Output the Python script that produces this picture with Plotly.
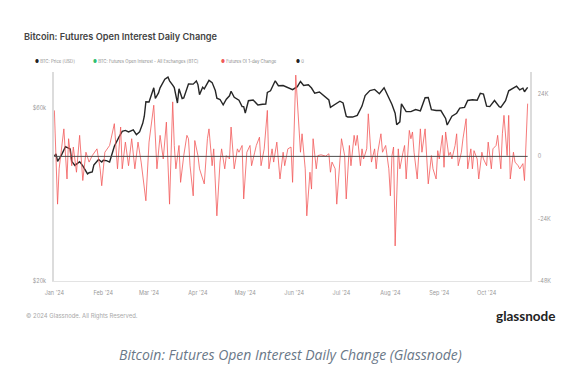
import pandas as pd
import plotly.graph_objects as go

# ---- data ----
# BTC price (USD, thousands), day index from 2024-01-01
price_days = [0, 1, 2, 4, 7, 9, 10, 11, 13, 16, 18, 21, 22, 24, 25, 28, 30,
              31, 33, 35, 37, 38, 41, 43, 45, 47, 50, 52, 54, 56, 57, 58,
              60, 63, 64, 66, 67, 70, 72, 73, 75, 76, 78, 79, 81, 82, 85, 88, 90,
              91, 92, 94, 95, 98, 100, 102, 103, 105, 107, 109, 111, 112, 114, 117, 119, 120,
              121, 123, 126, 129, 132, 134, 135, 137, 140, 142, 145, 148, 151,
              154, 156, 158, 161, 163, 165, 168, 171, 174, 175, 178, 181,
              183, 185, 186, 189, 192, 195, 197, 200, 203, 206, 209, 210, 212,
              214, 216, 217, 219, 220, 223, 226, 229, 232, 235, 237, 239, 242,
              245, 248, 249, 252, 255, 257, 260, 262, 265, 268, 270, 272,
              274, 276, 279, 282, 283, 286, 288, 291, 293, 295, 297, 298, 300]
price_k = [44.2, 44.9, 42.8, 44.1, 47.0, 46.6, 46.3, 42.8, 41.7, 42.7, 41.6, 39.5, 39.8, 40.0, 41.8, 43.3, 42.6,
           43.1, 43.0, 42.6, 45.3, 47.1, 50.0, 51.8, 52.1, 51.6, 52.3, 50.7, 51.6, 54.5, 57.0, 62.5,
           62.4, 68.3, 63.8, 66.1, 68.3, 72.1, 73.1, 71.4, 69.5, 68.4, 62.0, 67.9, 63.8, 64.0, 70.0, 69.9, 71.3,
           69.7, 65.4, 68.5, 67.8, 71.6, 70.6, 67.1, 63.9, 63.4, 61.3, 63.5, 64.9, 66.8, 64.3, 63.1, 60.6, 60.6,
           58.2, 62.9, 63.2, 61.2, 61.5, 61.6, 66.3, 67.0, 71.4, 69.2, 69.3, 68.4, 67.5,
           68.8, 71.1, 69.3, 69.6, 68.2, 66.0, 66.5, 64.9, 63.2, 60.3, 61.6, 62.7,
           62.0, 57.0, 56.7, 56.7, 57.3, 60.8, 65.0, 67.1, 67.6, 65.8, 68.3, 66.8, 64.6,
           61.4, 58.1, 54.0, 55.0, 61.7, 58.7, 58.7, 59.5, 59.0, 64.1, 64.2, 59.4, 59.1,
           59.1, 56.2, 53.9, 57.0, 58.1, 60.0, 60.3, 63.0, 63.3, 63.1, 65.9, 65.6,
           60.8, 60.6, 63.0, 60.6, 60.3, 62.9, 67.0, 68.4, 69.0, 67.4, 68.1, 66.6, 68.5]

# Futures OI 1-day change (thousand BTC), day index from 2024-01-01
oi_days = [0, 2, 3, 6, 8, 9, 11, 12, 14, 16, 18, 20, 22, 24, 27, 29, 30, 32, 35, 38,
           40, 42, 43, 45, 47, 49, 51, 53, 55, 58, 60, 63, 65, 67, 69, 71, 73, 75,
           76, 77, 79, 80, 82, 84, 85, 86, 88, 89, 91, 92, 95, 97, 98, 100, 101, 103,
           105, 106, 108, 109, 111, 112, 114, 116, 117, 119, 120, 122, 124, 125, 127,
           128, 130, 131, 133, 135, 136, 138, 139, 141, 143, 145, 146, 148, 150, 151,
           153, 155, 156, 157, 159, 160, 162, 163, 164, 166, 167, 169, 172, 174, 175,
           176, 178, 179, 181, 182, 184, 185, 187, 188, 190, 191, 192, 194, 195, 196,
           198, 199, 201, 203, 204, 205, 207, 208, 210, 212, 213, 214, 215, 216, 218,
           219, 221, 222, 223, 225, 226, 227, 228, 230, 232, 233, 235, 236, 237, 239,
           240, 242, 243, 244, 246, 247, 248, 250, 251, 252, 254, 255, 256, 258, 259,
           261, 262, 264, 265, 266, 268, 269, 271, 272, 274, 275, 277, 278, 280, 281,
           283, 284, 285, 287, 288, 289, 291, 292, 294, 295, 297, 298, 299, 300]
oi_change_k = [17.7, -18.4, -4.8, 10.6, -8.7, 6.8, -3.6, 3.6, -6.1, 8.1, -9.3, 1.6, -2.2, 0.3, 2.9, -4.8, -11.3, 1.6, 4.2, 12.6,
               -4.8, 11.3, -4.8, 5.5, -3.6, 6.8, -4.8, 5.5, -2.2, -17.1, 5.5, 19.7, -4.8, 8.1, -1.0, 13.2, -18.4, 21.0,
               4.2, -4.8, 4.2, -10.0, 0.3, 8.1, 6.8, -3.6, -15.2, 6.1, 0.3, -4.8, -10.6, 6.8, 10.6, -3.6, 2.9, -22.9,
               -2.2, 2.9, -4.8, 0.3, -1.0, 11.3, -4.8, 2.9, 1.6, 4.2, -16.4, 1.6, 4.2, -3.6, 1.6,
               4.2, 7.4, -3.6, 2.9, 17.7, -4.8, 2.9, -2.2, 5.5, -8.7, 1.6, -3.6, 2.9, 3.6, -10.0,
               31.3, 9.4, 1.6, 8.7, -4.8, -22.9, -6.1, -12.6, 6.8, -4.8, 0.3, 0.6, 0.1, 1.0, -6.1,
               -2.2, -4.8, -18.4, 1.6, 6.8, 0.3, -16.4, 4.2, -3.6, 8.1, 4.2, 8.1, -3.6, 2.9, -1.0,
               2.9, 16.4, -2.2, 2.9, -4.8, 1.6, 8.7, 1.6, 4.2, -4.8, -15.2, 0.3, 3.6, -34.5, 2.9,
               -4.8, 1.6, 4.2, -8.7, 10.0, 6.8, 9.4, 1.6, -8.7, 10.6, 1.6, 10.6, -1.0, -10.6, 0.3,
               -4.8, -8.7, 2.2, -1.0, 8.1, -4.2, 9.4, 0.3, 1.6, -1.0, 4.2, 8.7, -3.6, 1.6, 6.8,
               14.5, -4.8, 2.9, -4.8, 2.2, -1.0, -8.7, 1.6, -1.0, -3.6, 5.5, -4.8, 2.9, 4.2, 8.1,
               -4.8, 8.7, 15.8, 0.3, 15.8, -8.7, 1.6, -2.2, -3.6, -4.8, -2.8, -9.3, 4.2, 20.3]

zero_days = [0, 300]
zero_vals = [0, 0]

left_tickvals = [20000, 60000]
left_ticktext = ["$20k", "$60k"]
right_tickvals = [-48000, -24000, 0, 24000]
right_ticktext = ["-48K", "-24K", "0", "24K"]

legend_labels = ["BTC: Price [USD]", "BTC: Futures Open Interest - All Exchanges [BTC]",
                 "Futures OI 1-day Change", "0"]
legend_colors = ["#222222", "#2fbf71", "#f05a5a", "#222222"]

title_text = "Bitcoin: Futures Open Interest Daily Change"
copyright_text = "© 2024 Glassnode. All Rights Reserved."
brand_text = "glassnode"
caption_text = "Bitcoin: Futures Open Interest Daily Change (Glassnode)"

# ---- build ----
base = pd.Timestamp("2024-01-01")
to_dates = lambda days: [base + pd.Timedelta(days=d) for d in days]

OFF = 8  # page body margin
W, H = 585 - OFF, 374 - OFF
# plot area in page pixels: x 54..530, y 72..281
L, R, T, B = 54 - OFF, 585 - 530, 72 - OFF, 374 - 281
PW, PH = W - L - R, H - T - B


def px(x):
    return (x - OFF - L) / PW


def py(y):
    return (H - B - (y - OFF)) / PH


fig = go.Figure()
fig.add_trace(go.Scatter(x=to_dates(oi_days), y=[v * 1000 for v in oi_change_k], yaxis="y2",
                         mode="lines", line=dict(color="rgba(242,90,90,0.8)", width=1),
                         showlegend=False, hoverinfo="skip"))
fig.add_trace(go.Scatter(x=to_dates(zero_days), y=zero_vals, yaxis="y2", mode="lines",
                         line=dict(color="#4a4a4a", width=1), showlegend=False, hoverinfo="skip"))
fig.add_trace(go.Scatter(x=to_dates(price_days), y=[v * 1000 for v in price_k], yaxis="y",
                         mode="lines", line=dict(color="#262626", width=1.4),
                         showlegend=False, hoverinfo="skip"))

tickfont = dict(family="Inter, Liberation Sans, sans-serif", size=5.5, color="#9a9a9a")
fig.update_layout(
    width=W, height=H,
    margin=dict(l=L, r=R, t=T, b=B, pad=0),
    paper_bgcolor="white", plot_bgcolor="white",
    showlegend=False,
    xaxis=dict(type="date", range=["2023-12-31 18:00", "2024-10-28 12:00"],
               tick0="2024-01-01", dtick="M1", tickformat="%b '%y",
               showgrid=False, zeroline=False, showline=True, linecolor="#e3e3e3", linewidth=1,
               ticks="outside", ticklen=6, tickcolor="rgba(0,0,0,0)", tickfont=tickfont),
    yaxis=dict(type="log", range=[4.30103, 4.878], tickvals=left_tickvals, ticktext=left_ticktext,
               showgrid=False, zeroline=False, showline=True, linecolor="#dcdcdc", linewidth=1.5,
               ticks="outside", ticklen=5, tickcolor="rgba(0,0,0,0)", tickfont=tickfont),
    yaxis2=dict(overlaying="y", side="right", range=[-48000, 32500], tickvals=right_tickvals,
                ticktext=right_ticktext, showgrid=False, zeroline=False, showline=True,
                linecolor="#dcdcdc", linewidth=1.5, ticks="outside", ticklen=5,
                tickcolor="rgba(0,0,0,0)", tickfont=tickfont),
)

ann = []
ann.append(dict(text=title_text, x=px(22), y=py(36), xref="paper", yref="paper",
                xanchor="left", yanchor="middle", showarrow=False,
                font=dict(family="Inter, sans-serif", size=9.2, color="#444444", weight=600)))
leg_x = [33, 91, 219, 294]
for lx, lab, col in zip(leg_x, legend_labels, legend_colors):
    ann.append(dict(text=f"<span style='color:{col}'>●</span> {lab}", x=px(lx), y=py(62),
                    xref="paper", yref="paper", xanchor="left", yanchor="middle", showarrow=False,
                    font=dict(family="Inter, sans-serif", size=4.3, color="#8a8a8a")))
ann.append(dict(text=copyright_text, x=px(24), y=py(316), xref="paper", yref="paper",
                xanchor="left", yanchor="middle", showarrow=False,
                font=dict(family="Inter, sans-serif", size=5.9, color="#a8a8a8")))
ann.append(dict(text=brand_text, x=px(557), y=py(316), xref="paper", yref="paper",
                xanchor="right", yanchor="middle", showarrow=False,
                font=dict(family="Lato, sans-serif", size=13.5, color="#222222", weight=700)))
ann.append(dict(text=f"<i>{caption_text}</i>", x=px(290), y=py(354), xref="paper", yref="paper",
                xanchor="center", yanchor="middle", showarrow=False,
                font=dict(family="Open Sans, sans-serif", size=14, color="#6a7888")))
fig.update_layout(annotations=ann)

fig.write_html("out.html")
